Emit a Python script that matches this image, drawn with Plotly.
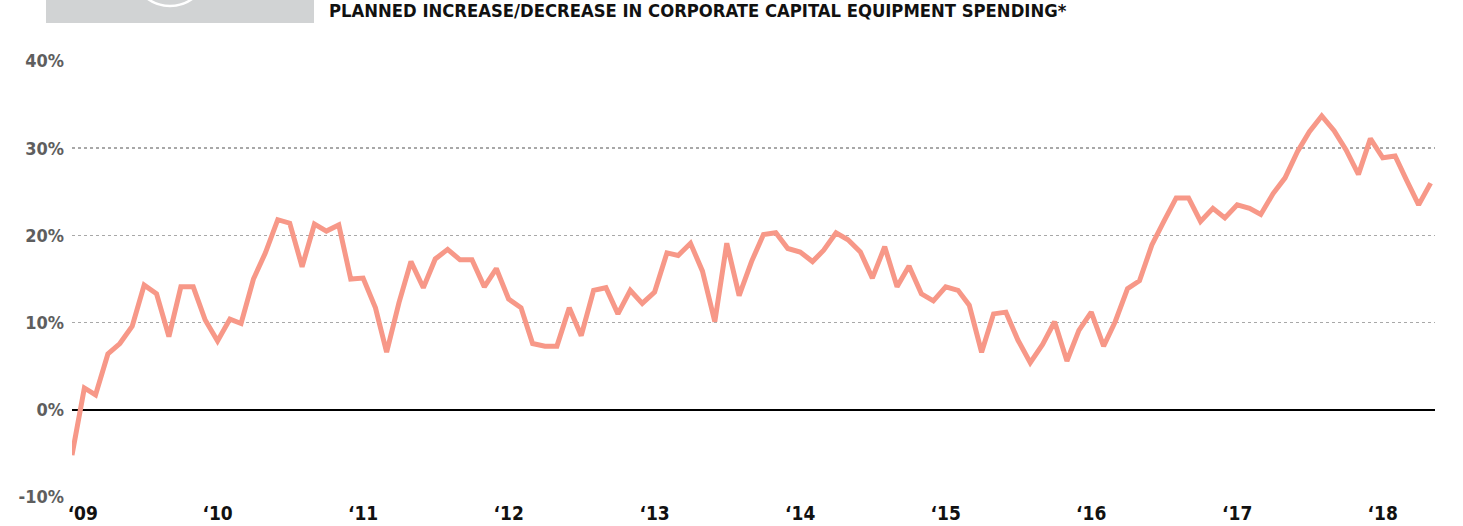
import pandas as pd
import plotly.graph_objects as go

# ---- data (monthly, Jan 2009 - May 2018) ----
start_month = "2009-01-01"
values = [
    -5.2, 2.5, 1.7, 6.4, 7.6, 9.6, 14.3, 13.3, 8.4, 14.1, 14.1, 10.3,      # 2009
    7.9, 10.4, 9.9, 15.0, 18.0, 21.8, 21.4, 16.4, 21.3, 20.5, 21.2, 15.0,   # 2010
    15.1, 11.7, 6.6, 12.3, 17.0, 14.0, 17.3, 18.4, 17.2, 17.2, 14.1, 16.2,  # 2011
    12.7, 11.7, 7.6, 7.3, 7.3, 11.7, 8.5, 13.7, 14.0, 11.0, 13.7, 12.2,     # 2012
    13.5, 18.0, 17.7, 19.1, 15.9, 10.1, 19.1, 13.1, 17.0, 20.1, 20.3, 18.5, # 2013
    18.1, 17.0, 18.3, 20.3, 19.5, 18.1, 15.1, 18.7, 14.1, 16.5, 13.3, 12.5, # 2014
    14.1, 13.7, 12.0, 6.6, 11.0, 11.2, 8.0, 5.4, 7.5, 10.1, 5.6, 9.1,       # 2015
    11.2, 7.3, 10.1, 13.9, 14.8, 18.9, 21.6, 24.3, 24.3, 21.6, 23.1, 22.0,  # 2016
    23.5, 23.1, 22.4, 24.8, 26.6, 29.6, 31.9, 33.7, 32.0, 29.8, 27.0, 31.1, # 2017
    28.9, 29.1, 26.4, 23.5, 26.0,                                           # 2018
]
months = pd.date_range(start_month, periods=len(values), freq="MS")

y_ticks = [-10, 0, 10, 20, 30, 40]
y_tick_text = ["-10%", "0%", "10%", "20%", "30%", "40%"]
x_tick_dates = ["2009-01-28", "2010-01-01", "2011-01-01", "2012-01-01", "2013-01-01",
                "2014-01-01", "2015-01-01", "2016-01-01", "2017-01-01", "2018-01-01"]
x_tick_text = ["‘09", "‘10", "‘11", "‘12", "‘13", "‘14", "‘15", "‘16", "‘17", "‘18"]
title_text = "PLANNED INCREASE/DECREASE IN CORPORATE CAPITAL EQUIPMENT SPENDING*"

# ---- layout geometry (pixels) ----
W, H = 1463, 526
ML, MR, MT, MB = 72, 28, 61, 29
PW, PH = W - ML - MR, H - MT - MB

def px_x(x):
    return (x - ML) / PW

def px_y(y):
    return (H - MB - y) / PH

FONT = "DejaVu Sans Condensed, Liberation Sans, Arial, sans-serif"

fig = go.Figure()
fig.add_trace(go.Scatter(
    x=months, y=values, mode="lines",
    line=dict(color="#f79888", width=5),
    hoverinfo="skip", showlegend=False,
))

fig.update_layout(
    width=W, height=H,
    margin=dict(l=ML, r=MR, t=MT, b=MB, pad=0, autoexpand=False),
    paper_bgcolor="white", plot_bgcolor="white",
    title=dict(
        text=title_text, x=329 / W, xanchor="left", xref="container",
        y=1 - 11 / H, yanchor="middle", yref="container",
        font=dict(family=FONT, size=18.3, color="#111111", weight="bold"),
        automargin=False,
    ),
    xaxis=dict(
        type="date",
        range=["2009-01-01", "2018-05-12"],
        tickvals=x_tick_dates, ticktext=x_tick_text,
        showgrid=False, zeroline=False, showline=False, ticks="",
        tickfont=dict(family=FONT, size=19, color="#111111", weight="bold"),
        ticklabelstandoff=3,
        automargin=False,
        fixedrange=True,
    ),
    yaxis=dict(
        range=[-10, 40],
        tickvals=y_ticks, ticktext=y_tick_text,
        showgrid=True, gridcolor="#a8a8a8", gridwidth=1.5, griddash="dot",
        zeroline=True, zerolinecolor="#000000", zerolinewidth=2,
        showline=False, ticks="",
        tickfont=dict(family=FONT, size=18, color="#5e5e5e", weight="bold"),
        ticklabelstandoff=7,
        automargin=False,
        fixedrange=True,
    ),
    shapes=[
        dict(type="rect", xref="paper", yref="paper",
             x0=px_x(46), x1=px_x(314), y0=px_y(23), y1=px_y(-5),
             fillcolor="#d1d3d4", line=dict(width=0), layer="above"),
        dict(type="circle", xref="paper", yref="paper",
             x0=px_x(132), x1=px_x(208), y0=px_y(6), y1=px_y(-70),
             line=dict(color="white", width=2.5), layer="above"),
    ],
)

fig.write_html(
    "out.html",
    config={"displayModeBar": False, "staticPlot": True},
    post_script="document.body.style.margin='0';document.body.style.overflow='hidden';",
)
